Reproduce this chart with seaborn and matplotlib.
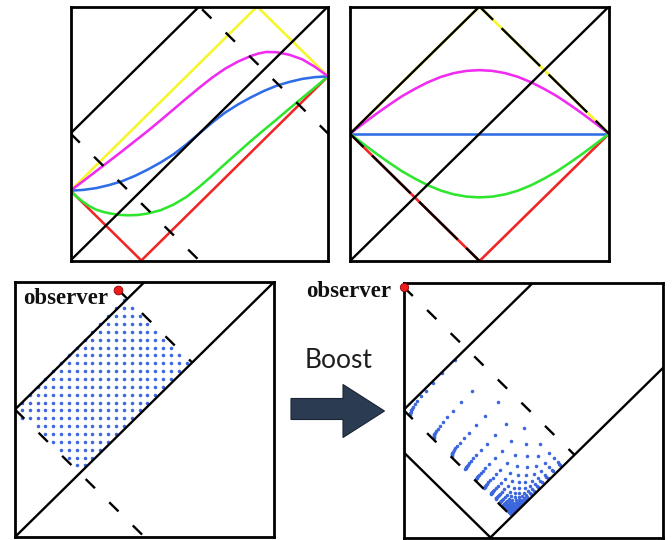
import numpy as np
import matplotlib
matplotlib.use("Agg")
import matplotlib.pyplot as plt
from matplotlib.patches import Polygon
import seaborn as sns

# ---------------- data (unit-square diagram coordinates: u right, v up) -------------
# top-left panel: boosted slicing of the causal diamond
tl_yellow_u = [0.0, 0.725, 1.0]
tl_yellow_v = [0.275, 1.0, 0.725]
tl_red_u = [0.0, 0.275, 1.0]
tl_red_v = [0.275, 0.0, 0.725]
tl_blue_u = [0.0, 0.05, 0.1, 0.15, 0.2, 0.25, 0.3, 0.35, 0.4, 0.45, 0.5,
             0.55, 0.6, 0.65, 0.7, 0.75, 0.8, 0.85, 0.9, 0.95, 1.0]
tl_blue_v = [0.275, 0.278, 0.285, 0.297, 0.312, 0.333, 0.358, 0.386, 0.418, 0.457, 0.5,
             0.543, 0.582, 0.614, 0.642, 0.667, 0.688, 0.703, 0.715, 0.722, 0.725]
tl_magenta_u = [0.0, 0.05, 0.1, 0.15, 0.2, 0.25, 0.3, 0.35, 0.4, 0.45, 0.5,
                0.55, 0.6, 0.65, 0.7, 0.73, 0.76, 0.8, 0.85, 0.9, 0.95, 1.0]
tl_magenta_v = [0.275, 0.313, 0.352, 0.391, 0.43, 0.47, 0.51, 0.552, 0.595, 0.638, 0.68,
                0.72, 0.755, 0.783, 0.805, 0.815, 0.821, 0.82, 0.81, 0.792, 0.762, 0.725]
tl_green_u = [0.0, 0.025, 0.05, 0.075, 0.1, 0.125, 0.15, 0.185, 0.22, 0.26, 0.3, 0.35,
              0.4, 0.45, 0.5, 0.55, 0.6, 0.65, 0.7, 0.75, 0.8, 0.85, 0.9, 0.95, 1.0]
tl_green_v = [0.275, 0.25, 0.23, 0.213, 0.2, 0.192, 0.186, 0.18, 0.178, 0.179, 0.185, 0.198,
              0.22, 0.25, 0.29, 0.334, 0.38, 0.425, 0.47, 0.513, 0.555, 0.598, 0.64, 0.682, 0.725]

# top-right panel: rest-frame slicing
tr_yellow_u = [0.0, 0.5, 1.0]
tr_yellow_v = [0.5, 1.0, 0.5]
tr_red_u = [0.0, 0.5, 1.0]
tr_red_v = [0.5, 0.0, 0.5]
tr_blue_u = [0.0, 1.0]
tr_blue_v = [0.5, 0.5]
tr_curve_u = [0.0, 0.05, 0.1, 0.15, 0.2, 0.25, 0.3, 0.35, 0.4, 0.45, 0.5,
              0.55, 0.6, 0.65, 0.7, 0.75, 0.8, 0.85, 0.9, 0.95, 1.0]
tr_magenta_v = [0.5, 0.539, 0.577, 0.613, 0.647, 0.676, 0.702, 0.723, 0.738, 0.747, 0.75,
                0.747, 0.738, 0.723, 0.702, 0.676, 0.647, 0.613, 0.577, 0.539, 0.5]
tr_green_v = [0.5, 0.461, 0.423, 0.387, 0.353, 0.324, 0.298, 0.277, 0.262, 0.253, 0.25,
              0.253, 0.262, 0.277, 0.298, 0.324, 0.353, 0.387, 0.423, 0.461, 0.5]

# black light rays shared by the two top panels
top_solid = [((0.0, 0.0), (1.0, 1.0)), ((0.0, 0.5), (0.5, 1.0))]
top_dashed = [((0.0, 0.5), (0.5, 0.0)), ((0.5, 1.0), (1.0, 0.5))]

# bottom-left panel
bl_solid = [((0.0, 0.0), (1.0, 1.0)), ((0.0, 0.5), (0.5, 1.0))]
bl_dashed = [((0.0, 0.5), (0.5, 0.0))]
bl_observer = (0.399, 0.969)
bl_observer_ray_end = (0.684, 0.684)
# lattice of sample points and the wedge they fill (light-cone coords a=u+v, b=v-u)
lattice_origin = (0.4506, 0.8969)
lattice_step = (0.0303, 0.0308)
wedge_a = (0.5, 1.368)
wedge_b = (0.0, 0.5)

# bottom-right panel (after the boost)
br_solid = [((0.0, 0.5), (0.5, 1.0)), ((0.0, 0.335), (0.335, 0.0)),
            ((0.335, 0.0), (1.0, 0.665))]
br_dashed = [((0.0, 0.5), (0.4175, 0.0825))]
br_observer = (0.0, 0.983)
br_observer_ray_end = (0.659, 0.324)
boosted_a = (0.5, 0.983)
boosted_b = (-0.335, 0.5)
boost_rates = (4.2, 4.2)      # e-folding of the two light-cone directions
boost_reach = 0.82

# panel frames in pixels: left, top, right, bottom
frames = {
    "tl": (70.5, 6.5, 328.0, 260.5),
    "tr": (350.0, 6.5, 609.0, 261.0),
    "bl": (15.0, 282.0, 274.0, 537.0),
    "br": (403.5, 282.5, 663.0, 537.5),
}
arrow_x = [291.0, 343.0, 343.0, 384.5, 343.0, 343.0, 291.0]
arrow_y = [398.5, 398.5, 384.5, 411.0, 437.5, 419.5, 419.5]

# ---------------- styling -------------------------------------------------------------
sns.set_theme(style="white")
plt.rcParams["lines.scale_dashes"] = False
plt.rcParams["lines.solid_capstyle"] = "butt"

W, H = 672, 540
fig = plt.figure(figsize=(W / 100, H / 100), dpi=100)

YELLOW = "#f6f62a"
MAGENTA = "#f02cf0"
BLUE = "#2f6de6"
GREEN = "#2fe62f"
RED = "#f02626"
DOT = "#3c66de"
LW = 1.85
BLW = 1.7

SHORT_DASH = (9.4, 14.4)


def panel(key):
    l, t, r, b = frames[key]
    ax = fig.add_axes([l / W, 1 - b / H, (r - l) / W, (b - t) / H])
    ax.set_xlim(0, 1)
    ax.set_ylim(0, 1)
    ax.set_xticks([])
    ax.set_yticks([])
    ax.set_facecolor("white")
    for s in ax.spines.values():
        s.set_visible(True)
        s.set_color("black")
        s.set_linewidth(2.0)
    return ax


def curve(ax, xs, ys, color, lw=LW, z=2, ls="-"):
    sns.lineplot(x=xs, y=ys, sort=False, estimator=None, color=color,
                 linewidth=lw, linestyle=ls, ax=ax, zorder=z, legend=False)


def segments(ax, segs, ls="-", lw=BLW, z=3):
    for (p0, p1) in segs:
        curve(ax, [p0[0], p1[0]], [p0[1], p1[1]], "black", lw=lw, z=z, ls=ls)


def clean(ax):
    ax.set_xlabel("")
    ax.set_ylabel("")
    ax.set_xlim(0, 1)
    ax.set_ylim(0, 1)


# ---------------- top-left ------------------------------------------------------------
ax1 = panel("tl")
curve(ax1, tl_yellow_u, tl_yellow_v, YELLOW)
curve(ax1, tl_red_u, tl_red_v, RED)
curve(ax1, tl_green_u, tl_green_v, GREEN)
curve(ax1, tl_blue_u, tl_blue_v, BLUE)
curve(ax1, tl_magenta_u, tl_magenta_v, MAGENTA)
segments(ax1, top_solid)
segments(ax1, [top_dashed[0]], ls=(0.0, SHORT_DASH))
segments(ax1, [top_dashed[1]], ls=(20.9, SHORT_DASH))
clean(ax1)

# ---------------- top-right -----------------------------------------------------------
ax2 = panel("tr")
curve(ax2, tr_yellow_u, tr_yellow_v, YELLOW, lw=1.9)
curve(ax2, tr_red_u, tr_red_v, RED, lw=1.9)
curve(ax2, tr_blue_u, tr_blue_v, BLUE)
curve(ax2, tr_curve_u, tr_magenta_v, MAGENTA)
curve(ax2, tr_curve_u, tr_green_v, GREEN)
segments(ax2, top_solid)
segments(ax2, top_dashed, ls=(25.2, (38.9, 8.6)))
clean(ax2)

# ---------------- bottom-left ---------------------------------------------------------
ax3 = panel("bl")
iu = np.arange(-20, 21)
jv = np.arange(-35, 6)
U, V = np.meshgrid(lattice_origin[0] + iu * lattice_step[0],
                   lattice_origin[1] + jv * lattice_step[1])
A, B = U + V, V - U
tol = 0.008
inside = ((A >= wedge_a[0] - tol) & (A <= wedge_a[1]) &
          (B >= wedge_b[0] - tol) & (B <= wedge_b[1] + tol) & (U > 0.005))
pu, pv = U[inside], V[inside]
pa, pb = A[inside], B[inside]
sns.scatterplot(x=pu, y=pv, s=6.5, color=DOT, linewidth=0, ax=ax3, zorder=2, legend=False)
segments(ax3, bl_solid)
segments(ax3, bl_dashed, ls=(0.0, SHORT_DASH))
segments(ax3, [(bl_observer, bl_observer_ray_end)], ls=(0.0, SHORT_DASH))
ax3.plot([bl_observer[0]], [bl_observer[1]], "o", ms=6.3, mfc="#ee1c1c", mec="#8a0000",
         mew=0.6, zorder=6, clip_on=False)
ax3.text(0.03, 0.912, "observer", transform=ax3.transAxes, fontsize=16.5,
         fontweight="bold", family="Liberation Serif", color="#111111",
         ha="left", va="baseline")
clean(ax3)

# ---------------- bottom-right --------------------------------------------------------
ax4 = panel("br")
t = (pa - wedge_a[0]) / (wedge_a[1] - wedge_a[0])
s = (pb - wedge_b[0]) / (wedge_b[1] - wedge_b[0])
ta = boost_reach * np.exp(boost_rates[0] * (t - t.max()))
sb = np.exp(boost_rates[1] * (s - s.max()))
a2 = boosted_a[0] + (boosted_a[1] - boosted_a[0]) * ta
b2 = boosted_b[0] + (boosted_b[1] - boosted_b[0]) * sb
qu, qv = (a2 - b2) / 2, (a2 + b2) / 2
sns.scatterplot(x=qu, y=qv, s=6.5, color=DOT, linewidth=0, ax=ax4, zorder=2, legend=False)
segments(ax4, br_solid)
segments(ax4, br_dashed, ls=(0.0, SHORT_DASH))
segments(ax4, [(br_observer, br_observer_ray_end)], ls=(0.0, SHORT_DASH))
ax4.plot([br_observer[0]], [br_observer[1]], "o", ms=6.0, mfc="#ee1c1c", mec="#8a0000",
         mew=0.6, zorder=6, clip_on=False)
clean(ax4)

# ---------------- overlay: labels and boost arrow ------------------------------------
ov = fig.add_axes([0, 0, 1, 1])
ov.set_xlim(0, W)
ov.set_ylim(H, 0)
ov.axis("off")
ov.patch.set_alpha(0)
ov.add_patch(Polygon(np.column_stack([arrow_x, arrow_y]), closed=True,
                     facecolor="#2b3b51", edgecolor="#1a2433", linewidth=0.8))
ov.text(339, 368.5, "Boost", fontsize=19, family="Lato", color="#1e1e1e",
        ha="center", va="baseline")
ov.text(306, 297, "observer", fontsize=16.5, fontweight="bold",
        family="Liberation Serif", color="#111111", ha="left", va="baseline")

fig.savefig("out.png", dpi=100)
